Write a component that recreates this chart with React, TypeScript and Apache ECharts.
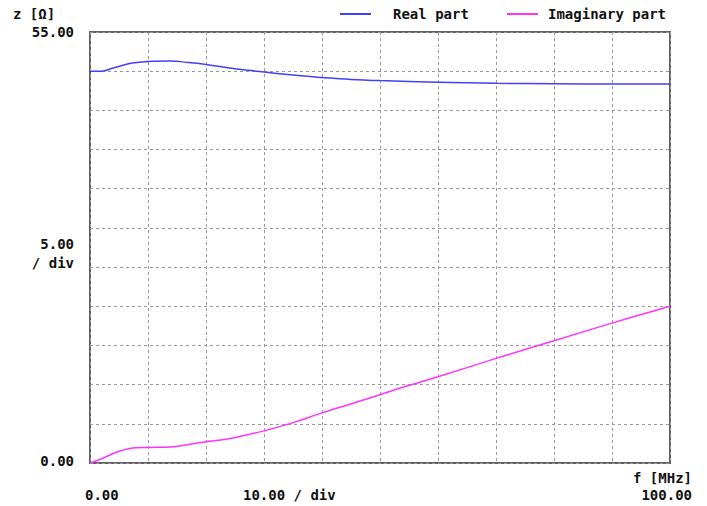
import React, { useEffect, useRef } from "react";
import * as echarts from "echarts";

const realFreq = [0, 2, 4, 7, 10, 14, 17, 20, 25, 30, 35, 40, 45, 50, 60, 70, 80, 90, 100];
const realValues = [50.0, 50.0, 50.4, 51.0, 51.25, 51.3, 51.1, 50.85, 50.3, 49.9, 49.5, 49.2, 48.95, 48.8, 48.6, 48.45, 48.4, 48.35, 48.35];
const imagFreq = [0, 2, 5, 8, 10, 14, 18, 20, 24, 30, 35, 40, 47, 53, 60, 70, 80, 90, 100];
const imagValues = [0, 0.55, 1.5, 1.95, 1.98, 2.05, 2.5, 2.7, 3.1, 4.1, 5.15, 6.4, 8.0, 9.45, 11.0, 13.35, 15.6, 17.85, 20.0];
const seriesNames = ["Real part", "Imaginary part"];
const xMin = 0, xMax = 100, xStep = 10;
const yMin = 0, yMax = 55, yStep = 5;

const FONT = "DejaVu Sans Mono";

export default function App() {
  const ref = useRef<HTMLDivElement>(null);
  useEffect(() => {
    document.body.style.margin = "0";
    const chart = echarts.init(ref.current!, null, { renderer: "svg" });
    const txt = (text: string, x: number, y: number, align: string = "left") => ({
      type: "text",
      x,
      y,
      style: {
        text,
        fill: "#111",
        font: `bold 14px "${FONT}"`,
        textAlign: align,
        textVerticalAlign: "middle",
      },
    });
    const legendBase = {
      top: 2,
      icon: "rect",
      itemWidth: 31,
      itemHeight: 2,
      textStyle: { fontFamily: FONT, fontWeight: "bold", fontSize: 14, color: "#111" },
    };
    chart.setOption({
      animation: false,
      backgroundColor: "#fff",
      grid: { left: 90, top: 32, width: 580, height: 431, show: true, borderColor: "#606060", borderWidth: 2, backgroundColor: "transparent" },
      legend: [
        { ...legendBase, left: 335, data: [seriesNames[0]], textStyle: { ...legendBase.textStyle, padding: [0, 0, 0, 17] } },
        { ...legendBase, left: 502, data: [seriesNames[1]], textStyle: { ...legendBase.textStyle, padding: [0, 0, 0, 5] } },
      ],
      xAxis: {
        type: "value",
        min: xMin,
        max: xMax,
        interval: xStep,
        axisLine: { show: false },
        axisTick: { show: false },
        axisLabel: { show: false },
        splitLine: { show: true, lineStyle: { color: "#999", width: 1, type: [3, 3] } },
      },
      yAxis: {
        type: "value",
        min: yMin,
        max: yMax,
        interval: yStep,
        axisLine: { show: false },
        axisTick: { show: false },
        axisLabel: { show: false },
        splitLine: { show: true, lineStyle: { color: "#999", width: 1, type: [3, 3] } },
      },
      series: [
        {
          name: seriesNames[0],
          type: "line",
          smooth: 0.4,
          symbol: "none",
          color: "#4040ff",
          lineStyle: { width: 1.5, color: "#4040ff" },
          data: realFreq.map((f, i) => [f, realValues[i]]),
        },
        {
          name: seriesNames[1],
          type: "line",
          smooth: 0.4,
          symbol: "none",
          color: "#ff33ff",
          lineStyle: { width: 1.5, color: "#ff33ff" },
          data: imagFreq.map((f, i) => [f, imagValues[i]]),
        },
      ],
      graphic: [
        txt("z [Ω]", 13, 14),
        txt(yMax.toFixed(2), 74, 32, "right"),
        txt(yStep.toFixed(2), 74, 244, "right"),
        txt("/ div", 74, 263, "right"),
        txt(yMin.toFixed(2), 74, 461, "right"),
        txt("f [MHz]", 692, 478, "right"),
        txt(xMin.toFixed(2), 85, 495),
        txt(`${xStep.toFixed(2)} / div`, 243, 495),
        txt(xMax.toFixed(2), 692, 495, "right"),
      ],
    });
    return () => chart.dispose();
  }, []);
  return <div ref={ref} style={{ width: 707, height: 506 }} />;
}
